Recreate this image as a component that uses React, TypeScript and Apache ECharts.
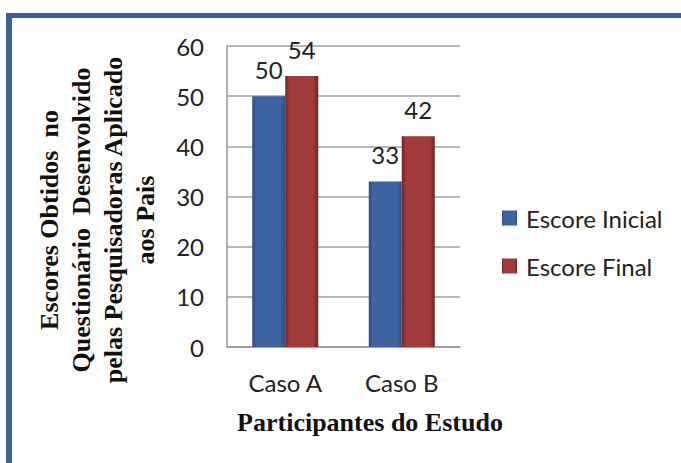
import React, { useEffect, useRef } from "react";
import * as echarts from "echarts";

const categories = ["Caso A", "Caso B"];
const seriesNames = ["Escore Inicial", "Escore Final"];
const inicial = [50, 33];
const final = [54, 42];
const yTicks = { min: 0, max: 60, interval: 10 };
const yAxisTitle = "Escores Obtidos  no\nQuestionário  Desenvolvido\npelas Pesquisadoras Aplicado\naos Pais";
const xAxisTitle = "Participantes do Estudo";

function grad(edge: string, mid: string) {
  return new echarts.graphic.LinearGradient(0, 0, 1, 0, [
    { offset: 0, color: edge },
    { offset: 0.12, color: mid },
    { offset: 0.85, color: mid },
    { offset: 1, color: edge },
  ]);
}

export default function App() {
  const ref = useRef<HTMLDivElement>(null);
  useEffect(() => {
    if (!ref.current) return;
    const chart = echarts.init(ref.current, null, { renderer: "svg" });
    const labelStyle = {
      show: true,
      position: "top" as const,
      distance: 15,
      fontFamily: "Lato",
      fontSize: 24,
      color: "#222",
    };
    chart.setOption({
      animation: false,
      backgroundColor: "#fff",
      grid: { left: 227, right: 221, top: 46, bottom: 116 },
      legend: {
        orient: "vertical",
        left: 497,
        top: 201,
        itemWidth: 15,
        itemHeight: 15,
        itemGap: 24,
        icon: "rect",
        textStyle: { fontFamily: "Lato", fontSize: 24, color: "#222", padding: [0, 0, 0, 4] },
        data: seriesNames,
      },
      xAxis: {
        type: "category",
        data: categories,
        axisLine: { lineStyle: { color: "#999", width: 1.5 } },
        axisTick: { show: false },
        axisLabel: { fontFamily: "Lato", fontSize: 24, color: "#222", margin: 23 },
      },
      yAxis: {
        type: "value",
        min: yTicks.min,
        max: yTicks.max,
        interval: yTicks.interval,
        axisLine: { show: true, lineStyle: { color: "#999", width: 1.5 } },
        axisTick: { show: false },
        splitLine: { lineStyle: { color: "#a0a0a0", width: 1.5 } },
        axisLabel: { fontFamily: "Lato", fontSize: 24, color: "#222", margin: 23 },
      },
      series: [
        {
          name: seriesNames[0],
          type: "bar",
          data: inicial,
          barWidth: 33,
          barGap: "0%",
          itemStyle: { color: grad("#2c4e7e", "#3d64a0") },
          label: labelStyle,
        },
        {
          name: seriesNames[1],
          type: "bar",
          data: final,
          barWidth: 33,
          barGap: "0%",
          itemStyle: { color: grad("#6e2424", "#a13a3a") },
          label: labelStyle,
        },
      ],
      graphic: [
        { type: "rect", shape: { x: 6, y: 13, width: 675, height: 5 }, style: { fill: "#3a6296" } },
        { type: "rect", shape: { x: 6, y: 13, width: 6, height: 450 }, style: { fill: "#3a6296" } },
        {
          type: "text",
          x: 97,
          y: 220,
          rotation: Math.PI / 2,
          style: {
            text: yAxisTitle,
            align: "center",
            verticalAlign: "middle",
            fontFamily: "Liberation Serif",
            fontWeight: "bold",
            fontSize: 26,
            lineHeight: 32,
            fill: "#111",
          },
        },
        {
          type: "text",
          x: 370,
          y: 422,
          style: {
            text: xAxisTitle,
            align: "center",
            verticalAlign: "middle",
            fontFamily: "Liberation Serif",
            fontWeight: "bold",
            fontSize: 26,
            fill: "#111",
          },
        },
      ],
    });
    return () => chart.dispose();
  }, []);
  return (
    <div
      ref={ref}
      style={{ position: "fixed", left: 0, top: 0, width: 681, height: 463 }}
    />
  );
}
